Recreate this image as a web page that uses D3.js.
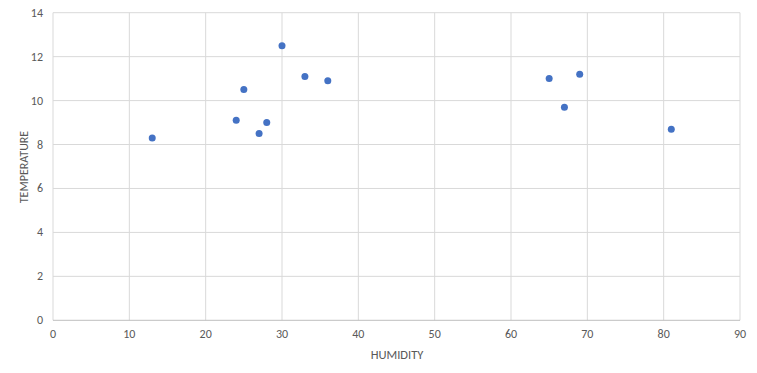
<!DOCTYPE html>
<html>
<head>
<meta charset="utf-8">
<script src="https://cdn.jsdelivr.net/npm/d3@7"></script>
<style>
  html, body { margin: 0; padding: 0; background: #fff; }
  svg { display: block; font-family: Calibri, Carlito, "Open Sans", "Liberation Sans", sans-serif; }
</style>
</head>
<body>
<svg id="chart" width="757" height="373"></svg>
<script>
// humidity vs temperature readings
const humidity    = [13, 24, 25, 27, 28, 30, 33, 36, 65, 67, 69, 81];
const temperature = [8.3, 9.1, 10.5, 8.5, 9.0, 12.5, 11.1, 10.9, 11.0, 9.7, 11.2, 8.7];
const xTicks = [0, 10, 20, 30, 40, 50, 60, 70, 80, 90];
const yTicks = [0, 2, 4, 6, 8, 10, 12, 14];

const svg = d3.select("#chart");
const plotL = 53, plotR = 740, plotT = 12.7, plotB = 320.3;

const x = d3.scaleLinear().domain([0, 90]).range([plotL, plotR]);
const y = d3.scaleLinear().domain([0, 14]).range([plotB, plotT]);

// gridlines
svg.append("g").selectAll("line").data(xTicks).join("line")
  .attr("x1", (d) => x(d)).attr("x2", (d) => x(d))
  .attr("y1", plotT).attr("y2", plotB)
  .attr("stroke", "#d9d9d9").attr("stroke-width", 1);
svg.append("g").selectAll("line").data(yTicks.filter((d) => d > 0)).join("line")
  .attr("x1", plotL).attr("x2", plotR)
  .attr("y1", (d) => y(d)).attr("y2", (d) => y(d))
  .attr("stroke", "#d9d9d9").attr("stroke-width", 1);

// x axis baseline
svg.append("line")
  .attr("x1", plotL).attr("x2", plotR).attr("y1", y(0)).attr("y2", y(0))
  .attr("stroke", "#bfbfbf").attr("stroke-width", 1);

// tick labels
svg.append("g").selectAll("text").data(xTicks).join("text")
  .attr("x", (d) => x(d)).attr("y", plotB + 18)
  .attr("text-anchor", "middle")
  .attr("font-size", 12).attr("fill", "#595959")
  .text((d) => d);
svg.append("g").selectAll("text").data(yTicks).join("text")
  .attr("x", plotL - 10).attr("y", (d) => y(d) + 4)
  .attr("text-anchor", "end")
  .attr("font-size", 12).attr("fill", "#595959")
  .text((d) => d);

// axis titles
svg.append("text")
  .attr("x", 397).attr("y", 359)
  .attr("text-anchor", "middle")
  .attr("font-size", 12.5).attr("fill", "#595959")
  .text("HUMIDITY");
svg.append("text")
  .attr("transform", `translate(28,167) rotate(-90)`)
  .attr("text-anchor", "middle")
  .attr("font-size", 12).attr("fill", "#595959")
  .text("TEMPERATURE");

// points
svg.append("g").selectAll("circle").data(humidity).join("circle")
  .attr("cx", (d) => x(d))
  .attr("cy", (d, i) => y(temperature[i]))
  .attr("r", 3.5)
  .attr("fill", "#4472c4");
</script>
</body>
</html>
